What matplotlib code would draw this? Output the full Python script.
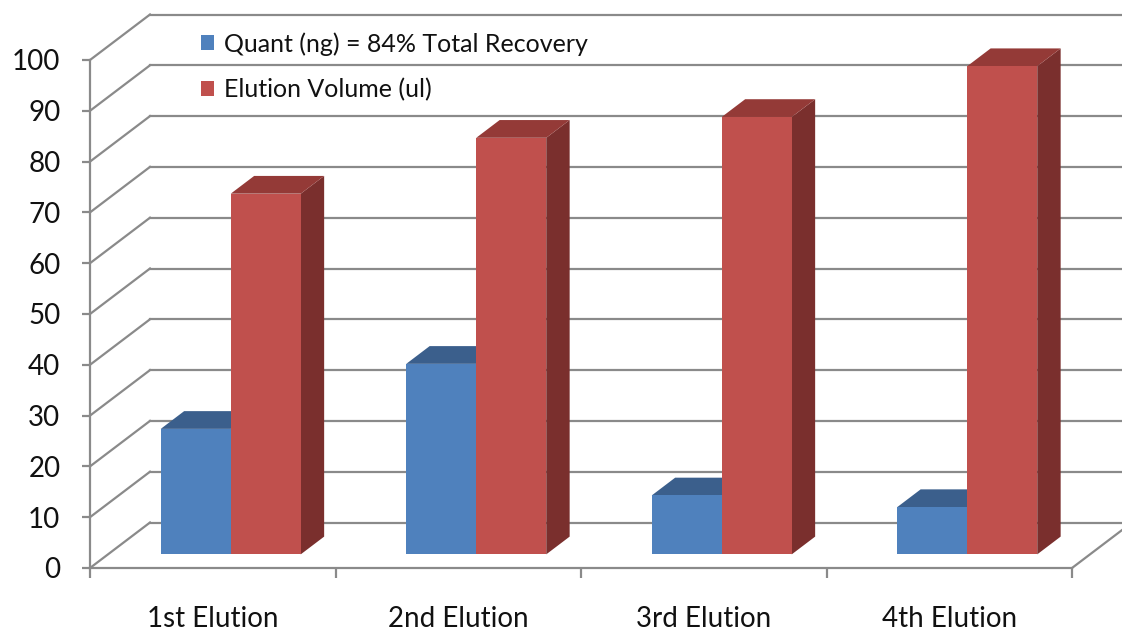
import matplotlib
matplotlib.use('Agg')
import matplotlib.pyplot as plt
from matplotlib.patches import Polygon, Patch

categories = ['1st Elution', '2nd Elution', '3rd Elution', '4th Elution']
quant = [24.7, 37.5, 11.6, 9.3]
volume = [71.0, 82.0, 86.1, 96.1]
series_names = ['Quant (ng) = 84% Total Recovery', 'Elution Volume (ul)']
yticks = list(range(0, 101, 10))

blue_front, blue_top = '#4F81BD', '#3B5F8C'
red_front, red_top, red_side = '#C0504D', '#943A37', '#7A2F2D'
grid_c = '#8A8A8A'

plt.rcParams['font.family'] = ['Lato', 'DejaVu Sans']

W, H = 1122, 633
fig = plt.figure(figsize=(W / 100, H / 100), dpi=100)
ax = fig.add_axes([90 / W, (H - 568) / H, (1072 - 90) / W, (568 - 60) / H])
n = len(categories)
ax.set_xlim(0, n)
ax.set_ylim(0, 100)

# oblique depth projection in data units
px_x = (1072 - 90) / n      # pixels per category
px_y = (568 - 60) / 100     # pixels per value unit
DX = 60 / px_x
DY = 45.5 / px_y


def P(x, y, d):
    return (x + d * DX, y + d * DY)


# walls: back gridlines and side-wall diagonals
for v in yticks:
    x0, y0 = P(0, v, 1)
    ax.plot([x0, n + 1.0], [y0, y0], color=grid_c, lw=1.6, clip_on=False, zorder=1)
    xa, ya = P(0, v, 0)
    ax.plot([xa, x0], [ya, y0], color=grid_c, lw=1.6, clip_on=False, zorder=1)
# floor right edge
xa, ya = P(n, 0, 0)
xb, yb = P(n, 0, 1)
ax.plot([xa, xb], [ya, yb], color=grid_c, lw=1.6, clip_on=False, zorder=1)

# bars
w = 70 / px_x
d0, d1 = 0.3, 0.69


def box(x0, x1, v, front, top, side=None):
    if side is not None:
        ax.add_patch(Polygon([P(x1, 0, d0), P(x1, 0, d1), P(x1, v, d1), P(x1, v, d0)],
                             closed=True, facecolor=side, edgecolor='none', zorder=3, clip_on=False))
    ax.add_patch(Polygon([P(x0, v, d0), P(x1, v, d0), P(x1, v, d1), P(x0, v, d1)],
                         closed=True, facecolor=top, edgecolor='none', zorder=3, clip_on=False))
    ax.add_patch(Polygon([P(x0, 0, d0), P(x1, 0, d0), P(x1, v, d0), P(x0, v, d0)],
                         closed=True, facecolor=front, edgecolor='none', zorder=3, clip_on=False))


for i in range(n):
    c = i + 0.5
    box(c - w, c, quant[i], blue_front, blue_top)
    box(c, c + w, volume[i], red_front, red_top, red_side)

# axes spines / ticks
for s in ['top', 'right']:
    ax.spines[s].set_visible(False)
for s in ['left', 'bottom']:
    ax.spines[s].set_color(grid_c)
    ax.spines[s].set_linewidth(1.6)
    ax.spines[s].set_zorder(2)
ax.patch.set_alpha(0)
ax.set_yticks(yticks)
ax.set_yticklabels([str(t) for t in yticks])
ax.tick_params(axis='y', length=5.8, width=1.6, color=grid_c, pad=15.5, labelsize=20,
               labelcolor='#111111')
ax.set_xticks(range(n + 1))
ax.set_xticklabels([''] * (n + 1))
ax.tick_params(axis='x', which='major', length=7.2, width=1.6, color=grid_c)
ax.set_xticks([i + 0.5 for i in range(n)], minor=True)
ax.set_xticklabels(categories, minor=True)
ax.tick_params(axis='x', which='minor', length=0, pad=27.5, labelsize=20,
               labelcolor='#111111')

handles = [Patch(facecolor=blue_front, edgecolor='none'), Patch(facecolor=red_front, edgecolor='none')]
fig.legend(handles, series_names, loc='upper left', bbox_to_anchor=(201 / W, 1 - 32 / H),
           frameon=False, fontsize=18, handlelength=0.52, handleheight=0.52,
           handletextpad=0.4, labelspacing=0.9, borderaxespad=0, borderpad=0,
           labelcolor='#111111')

fig.savefig('out.png', dpi=100)
